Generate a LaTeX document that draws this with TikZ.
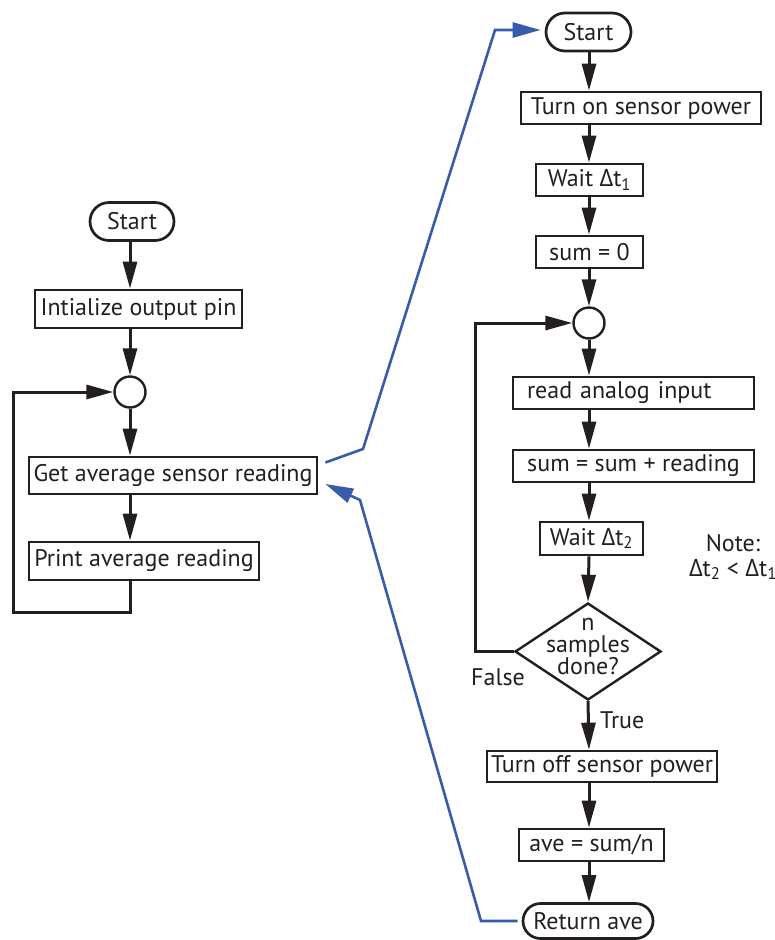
\documentclass[tikz,border=0pt]{standalone}
\usepackage{fontspec}
\setmainfont{PT Sans}
\newfontfamily\grk{Open Sans}
\usetikzlibrary{arrows.meta,shapes.geometric,shapes.misc,calc}
\newcommand{\Dt}[1]{{\grk Δ}t\textsubscript{#1}}
\definecolor{ink}{RGB}{35,31,32}
\definecolor{linkblue}{RGB}{55,92,172}
\begin{document}
\begin{tikzpicture}[x=1pt,y=-1pt,
  every node/.style={font=\fontsize{24}{26}\selectfont, text=ink},
  box/.style={draw=ink, line width=2.7pt, minimum height=32pt, inner sep=0pt},
  term/.style={draw=ink, line width=2.7pt, rounded rectangle, minimum height=38pt, inner sep=0pt},
  junc/.style={draw=ink, line width=2.4pt, circle, minimum size=31pt, inner sep=0pt},
  flow/.style={draw=ink, line width=3pt, -{Triangle[length=27pt,width=14pt]}},
  link/.style={draw=linkblue, line width=2.6pt, -{Triangle[length=28pt,width=15pt]}},
  lbl/.style={inner sep=0pt}
]
\fill[white] (0,0) rectangle (775,940);
\useasboundingbox (0,0) rectangle (775,940);

% left flowchart
\node[term, minimum width=84pt] (s1) at (132,221.5) {Start};
\node[box, minimum width=207pt, minimum height=38pt] (init) at (138.5,309) {Intialize output pin};
\node[junc] (c1) at (130,392) {};
\node[box, minimum width=288pt, minimum height=37pt] (get) at (173,475.5) {Get average sensor reading};
\node[box, minimum width=230pt, minimum height=38pt] (print) at (144,561) {Print average reading};

\draw[flow] (s1.south -| c1) -- (init.north -| c1);
\draw[flow] (init.south -| c1) -- (c1.north);
\draw[flow] (c1.south) -- (get.north -| c1);
\draw[flow] (get.south -| c1) -- (print.north -| c1);
\coordinate (lb) at (13,612);
\draw[flow] (print.south -| c1) |- (lb) |- (c1.west);

% right flowchart
\coordinate (rx) at (589,0);
\node[term, minimum width=85pt] (s2) at (588.5,32) {Start};
\node[box, minimum width=240pt] (on) at (641,108) {Turn on sensor power};
\node[box, minimum width=107pt] (w1) at (589.5,180) {Wait \Dt{1}};
\node[box, minimum width=107pt] (s0) at (589.5,252) {sum = 0};
\node[junc] (c2) at (589,323) {};
\node[box, text width=213pt, inner xsep=14pt, align=left] (read) at (633.5,393) {read analog input};
\node[box, minimum width=241pt] (sumr) at (633.5,466) {sum = sum + reading};
\node[box, minimum width=103pt, minimum height=33pt] (w2) at (591.5,538.5) {Wait \Dt{2}};
\node[diamond, draw=ink, line width=2.4pt, minimum width=146pt, minimum height=97pt, inner sep=0pt] (dec) at (588,651.5) {};
\node[align=center, font=\fontsize{24}{22}\selectfont, inner sep=0pt] (dect) at (588,646) {n\\samples\\done?};
\node[box, minimum width=230pt, minimum height=31pt] (off) at (602,766.5) {Turn off sensor power};
\node[box, minimum width=145pt] (ave) at (591.5,845) {ave = sum/n};
\node[term, minimum width=130pt, minimum height=35pt] (ret) at (588,921) {Return ave};

\draw[flow] (s2.south -| rx) -- (on.north -| rx);
\draw[flow] (on.south -| rx) -- (w1.north -| rx);
\draw[flow] (w1.south -| rx) -- (s0.north -| rx);
\draw[flow] (s0.south -| rx) -- (c2.north);
\draw[flow] (c2.south) -- (read.north -| rx);
\draw[flow] (read.south -| rx) -- (sumr.north -| rx);
\draw[flow] (sumr.south -| rx) -- (w2.north -| rx);
\draw[flow] (w2.south -| rx) -- (dec.north);
\draw[flow] (dec.south) -- (off.north -| rx);
\draw[flow] (off.south -| rx) -- (ave.north -| rx);
\draw[flow] (ave.south -| rx) -- (ret.north -| rx);
\coordinate (lb2) at (475,323);
\draw[flow] (dec.west) -| (lb2) -- (c2.west);

\node[lbl] (false) at (498,677) {False};
\node[lbl, anchor=west] (true) at (600,720) {True};
\node[align=center, font=\fontsize{24}{25}\selectfont, inner sep=0pt] (note) at (733,557) {Note:\\\Dt{2} < \Dt{1}};

% blue links
\draw[link] ($(get.east)+(7,-13)$) -- (363,449) -- (495,30) -- ($(s2.west)+(-4,-2)$);
\draw[link] ($(ret.west)+(-4,0)$) -- (481,921) -- (360,500) -- ($(get.east)+(7,8.5)$);
\end{tikzpicture}
\end{document}
